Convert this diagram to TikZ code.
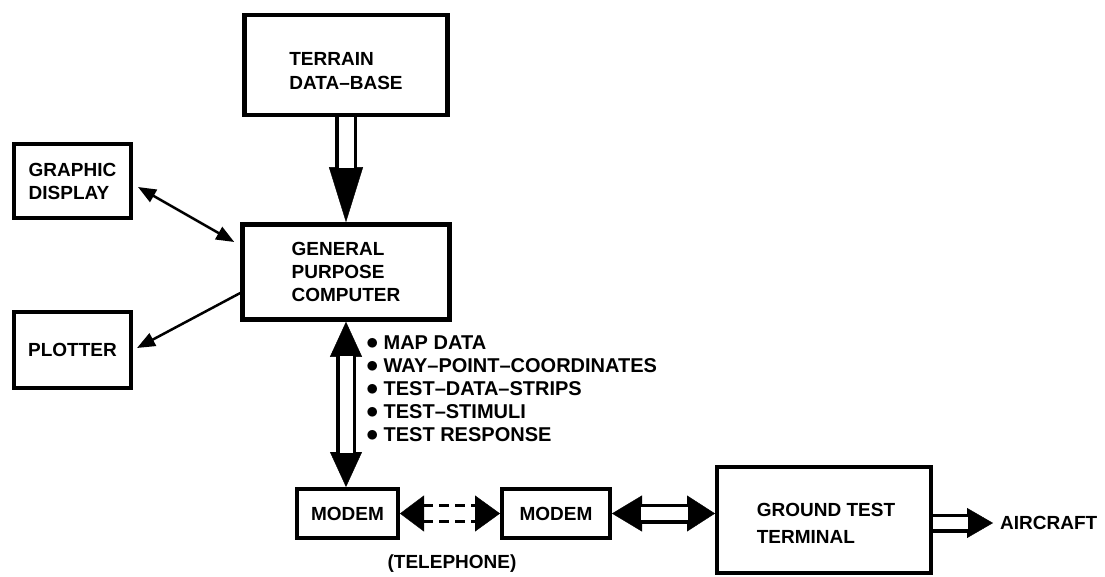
\documentclass[tikz,border=0pt]{standalone}
\usepackage{fontspec}
\setmainfont{Liberation Sans}
\usetikzlibrary{arrows.meta}

\newcommand{\itemdot}{{\fontsize{27}{23}\selectfont$\bullet$}\hspace{5pt}}

\tikzset{
  lbl/.style={inner sep=0pt, align=left, font=\bfseries\fontsize{19}{23}\selectfont},
  block/.style={lbl, draw, line width=4pt},
  bigblock/.style={block, line width=4.5pt},
  pipe/.style={line width=3.5pt, double=white, double distance=13pt},
  wire/.style={line width=2.5pt},
  tip/.style={line width=0.4pt}
}

\begin{document}
\begin{tikzpicture}[x=1pt,y=-1pt]
        \useasboundingbox (0,0) rectangle (1105,577);

        % Blocks
        \node[bigblock, minimum width=203pt, minimum height=100pt,
              label={[lbl, yshift=-6pt]center:{TERRAIN\\[1pt]DATA--BASE}}] (terrain) at (346,65) {};
        \node[bigblock, minimum width=207pt, minimum height=95pt] (gpc) at (346,272) {GENERAL\\PURPOSE\\COMPUTER};
        \node[block, minimum width=117pt, minimum height=74pt] (disp) at (72.5,181) {GRAPHIC\\DISPLAY};
        \node[block, minimum width=117pt, minimum height=76pt] (plot) at (72.5,350) {PLOTTER};
        \node[block, minimum width=101pt, minimum height=49pt] (modemA) at (347.5,513.5) {MODEM};
        \node[block, minimum width=108pt, minimum height=49pt] (modemB) at (556,513.5) {MODEM};
        \node[block, minimum width=214pt, minimum height=106pt,
              label={[lbl, xshift=2pt, yshift=-3pt]center:{GROUND TEST\\[4pt]TERMINAL}}] (gtt) at (824,520) {};
        \node[lbl, anchor=west] (aircraft) at (1000,523) {AIRCRAFT};

        % Data carried between computer and modem
        \node[lbl, font=\bfseries\fontsize{20}{23}\selectfont, anchor=west] (items) at (366,389) {\itemdot MAP DATA\\
          \itemdot WAY--POINT--COORDINATES\\
          \itemdot TEST--DATA--STRIPS\\
          \itemdot TEST--STIMULI\\
          \itemdot TEST RESPONSE};
        \node[lbl] (phone) at (452,564) {(TELEPHONE)};

        % Thin arrows to display and plotter
        \draw[wire, {Triangle[length=18pt,width=14pt]}-{Triangle[length=18pt,width=14pt]}]
          ([shift={(5,6)}]disp.east) -- ([shift={(-6,-30)}]gpc.west);
        \draw[wire, -{Triangle[length=18pt,width=14pt]}]
          ([shift={(0,21)}]gpc.west) -- ([shift={(4,-2)}]plot.east);

        % Terrain data into the computer
        \draw[tip, -{Triangle[length=55pt,width=34pt]}] (terrain) -- (gpc);
        \draw[pipe, double distance=15pt, shorten >=54pt] (terrain) -- (gpc);

        % Computer <-> modem
        \draw[tip, {Triangle[length=35pt,width=32pt]}-{Triangle[length=35pt,width=32pt]}]
          (gpc.south) -- (gpc.south |- modemA.north);
        \draw[pipe, shorten <=34pt, shorten >=34pt] (gpc.south) -- (gpc.south |- modemA.north);

        % Telephone line between the modems (white line, black heads)
        \draw[tip, draw=white, {Triangle[length=24pt,width=36pt,color=black]}-{Triangle[length=25pt,width=36pt,color=black]}]
          (modemA.east) -- (modemB.west);
        \foreach \dy in {-8,8}
          \draw[line width=3pt, dash pattern=on 10pt off 6pt, shorten <=23pt, shorten >=24pt]
            ([shift={(0,\dy)}]modemA.east) -- ([shift={(0,\dy)}]modemB.west);

        % Modem <-> ground test terminal
        \draw[tip, {Triangle[length=30pt,width=36pt]}-{Triangle[length=28pt,width=36pt]}]
          (modemB.east) -- (modemB.east -| gtt.west);
        \draw[pipe, shorten <=29pt, shorten >=27pt] (modemB.east) -- (modemB.east -| gtt.west);

        % Terminal out to the aircraft
        \draw[tip, -{Triangle[length=26pt,width=30pt]}] (gtt.east |- aircraft.west) -- ([xshift=-7pt]aircraft.west);
        \draw[pipe, double distance=12pt, shorten >=25pt] (gtt.east |- aircraft.west) -- ([xshift=-7pt]aircraft.west);
\end{tikzpicture}
\end{document}
